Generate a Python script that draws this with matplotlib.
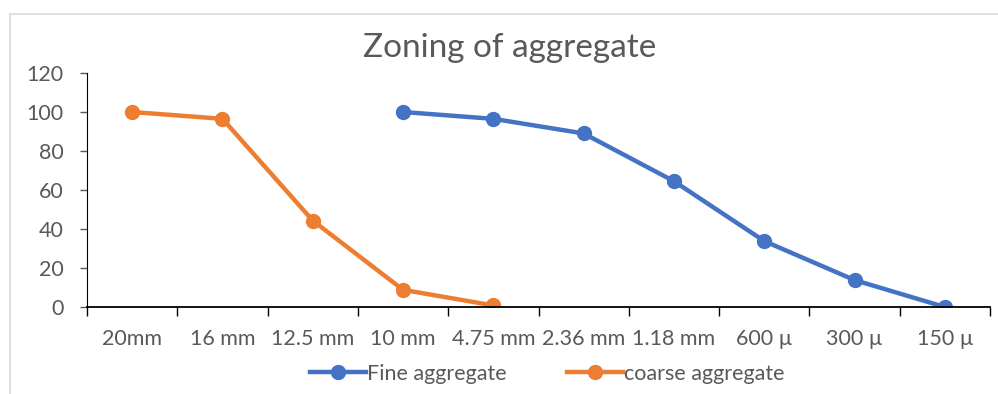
import numpy as np
import matplotlib.pyplot as plt
from matplotlib.patches import Rectangle

plt.rcParams['font.family'] = ['Lato', 'DejaVu Sans']

sieves = ["20mm", "16 mm", "12.5 mm", "10 mm", "4.75 mm", "2.36 mm",
          "1.18 mm", "600 µ", "300 µ", "150 µ"]
fine = [np.nan, np.nan, np.nan, 100, 96.5, 89, 64.5, 33.8, 13.8, 0]
coarse = [100, 96.5, 44.3, 8.8, 0.8, np.nan, np.nan, np.nan, np.nan, np.nan]

blue = "#4472C4"
orange = "#ED7D31"
grey = "#595959"

fig = plt.figure(figsize=(9.98, 3.94), dpi=100)
ax = fig.add_axes([0.0872, 0.2208, 0.9048, 0.5939])

# outer chart frame
fig.patches.append(Rectangle((0.010, -0.05), 1.2, 1.014, transform=fig.transFigure,
                             fill=False, edgecolor="#d9d9d9", linewidth=1.2))

x = np.arange(len(sieves))
ax.plot(x, fine, color=blue, lw=3.2, marker="o", ms=10, label="Fine aggregate")
ax.plot(x, coarse, color=orange, lw=3.2, marker="o", ms=10, label="coarse aggregate")

ax.set_xlim(-0.5, len(sieves) - 0.5)
ax.set_ylim(0, 120)
ax.set_yticks(range(0, 121, 20))

# category boundaries get the tick marks, labels sit in between
ax.set_xticks(np.arange(-0.5, len(sieves), 1.0))
ax.set_xticklabels([])
ax.set_xticks(x, minor=True)
ax.set_xticklabels(sieves, minor=True)
ax.tick_params(axis="x", which="major", length=6.5, width=1, color="black", direction="out")
ax.tick_params(axis="x", which="minor", length=0, pad=16, labelsize=15.5, labelcolor=grey)
ax.tick_params(axis="y", length=5, width=1, color=grey, labelsize=15.5, labelcolor=grey, pad=12)

for s in ["top", "right"]:
    ax.spines[s].set_visible(False)
ax.spines["left"].set_color("black")
ax.spines["bottom"].set_color("black")
ax.spines["bottom"].set_linewidth(1.3)

fig.text(0.511, 0.877, "Zoning of aggregate", ha="center", va="center",
         fontsize=24, color=grey)

leg = fig.legend(loc="center", bbox_to_anchor=(0.548, 0.052), ncol=2, frameon=False,
                 fontsize=15.5, handlelength=2.6, handletextpad=0.05, columnspacing=2.8)
for t in leg.get_texts():
    t.set_color(grey)

fig.savefig("out.png", dpi=100)
